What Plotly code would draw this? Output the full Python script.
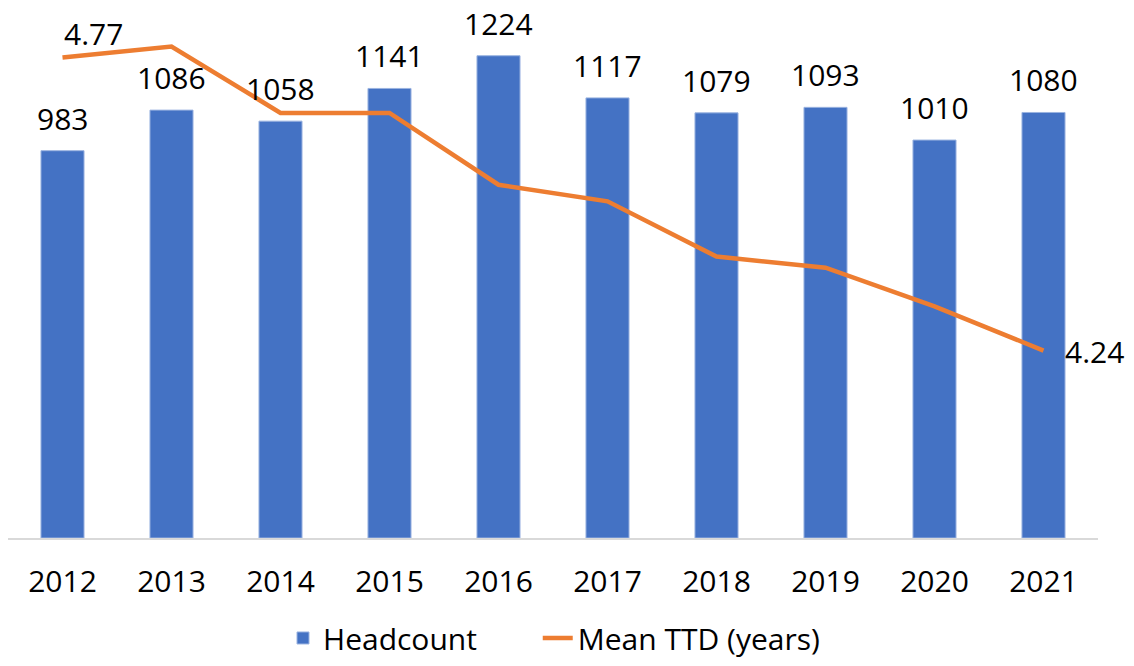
import plotly.graph_objects as go

years = ["2012", "2013", "2014", "2015", "2016", "2017", "2018", "2019", "2020", "2021"]
headcount = [983, 1086, 1058, 1141, 1224, 1117, 1079, 1093, 1010, 1080]
mean_ttd = [4.77, 4.79, 4.67, 4.67, 4.54, 4.51, 4.41, 4.39, 4.32, 4.24]

FONT = "Open Sans"
FS = 30
BLUE = "#4472C4"
ORANGE = "#ED7D31"

fig = go.Figure()
fig.add_trace(go.Bar(
    x=years, y=headcount, name="Headcount",
    marker=dict(color=BLUE, line=dict(color="#9AB3E0", width=1)),
    yaxis="y", legend="legend",
))
fig.add_trace(go.Scatter(
    x=years, y=mean_ttd, name="Mean TTD (years)", mode="lines",
    line=dict(color=ORANGE, width=4.5),
    yaxis="y2", legend="legend2",
))

annotations = []
for i, v in enumerate(headcount):
    annotations.append(dict(
        x=i, y=v, xref="x", yref="y", text=str(v), showarrow=False,
        xanchor="center", yanchor="bottom", yshift=11, borderpad=0,
        font=dict(family=FONT, size=FS, color="black"),
    ))
annotations.append(dict(
    x=0, y=mean_ttd[0], xref="x", yref="y2", text=f"{mean_ttd[0]:.2f}",
    showarrow=False, xanchor="left", yanchor="bottom", xshift=-1, yshift=2,
    font=dict(family=FONT, size=FS, color="black"),
))
annotations.append(dict(
    x=len(years) - 1, y=mean_ttd[-1], xref="x", yref="y2", text=f"{mean_ttd[-1]:.2f}",
    showarrow=False, xanchor="left", yanchor="middle", xshift=19, yshift=-1,
    font=dict(family=FONT, size=FS, color="black"),
))

legend_font = dict(family=FONT, size=FS, color="black")
fig.update_layout(
    width=1118, height=650,
    margin=dict(l=0, r=28, t=12, b=120, autoexpand=False),
    paper_bgcolor="white", plot_bgcolor="white",
    bargap=0.605,
    showlegend=True,
    legend=dict(orientation="h", x=0.2523, xanchor="left", y=-0.193, yanchor="middle",
                font=legend_font, itemwidth=30, bgcolor="rgba(0,0,0,0)"),
    legend2=dict(orientation="h", x=0.486, xanchor="left", y=-0.193, yanchor="middle",
                 font=legend_font, itemwidth=30, bgcolor="rgba(0,0,0,0)"),
    xaxis=dict(type="category", categoryorder="array", categoryarray=years,
               range=[-0.5, len(years) - 0.5], autorange=False,
               showline=True, linecolor="#D9D9D9", linewidth=2, ticks="",
               ticklabelstandoff=16,
               tickfont=dict(family=FONT, size=FS, color="black"),
               showgrid=False, zeroline=False),
    yaxis=dict(range=[0, 1314.7], visible=False, showgrid=False, zeroline=False),
    yaxis2=dict(range=[3.901, 4.838], overlaying="y", side="right", visible=False,
                showgrid=False, zeroline=False),
    annotations=annotations,
    font=dict(family=FONT, size=FS, color="black"),
)

fig.write_html("out.html")
